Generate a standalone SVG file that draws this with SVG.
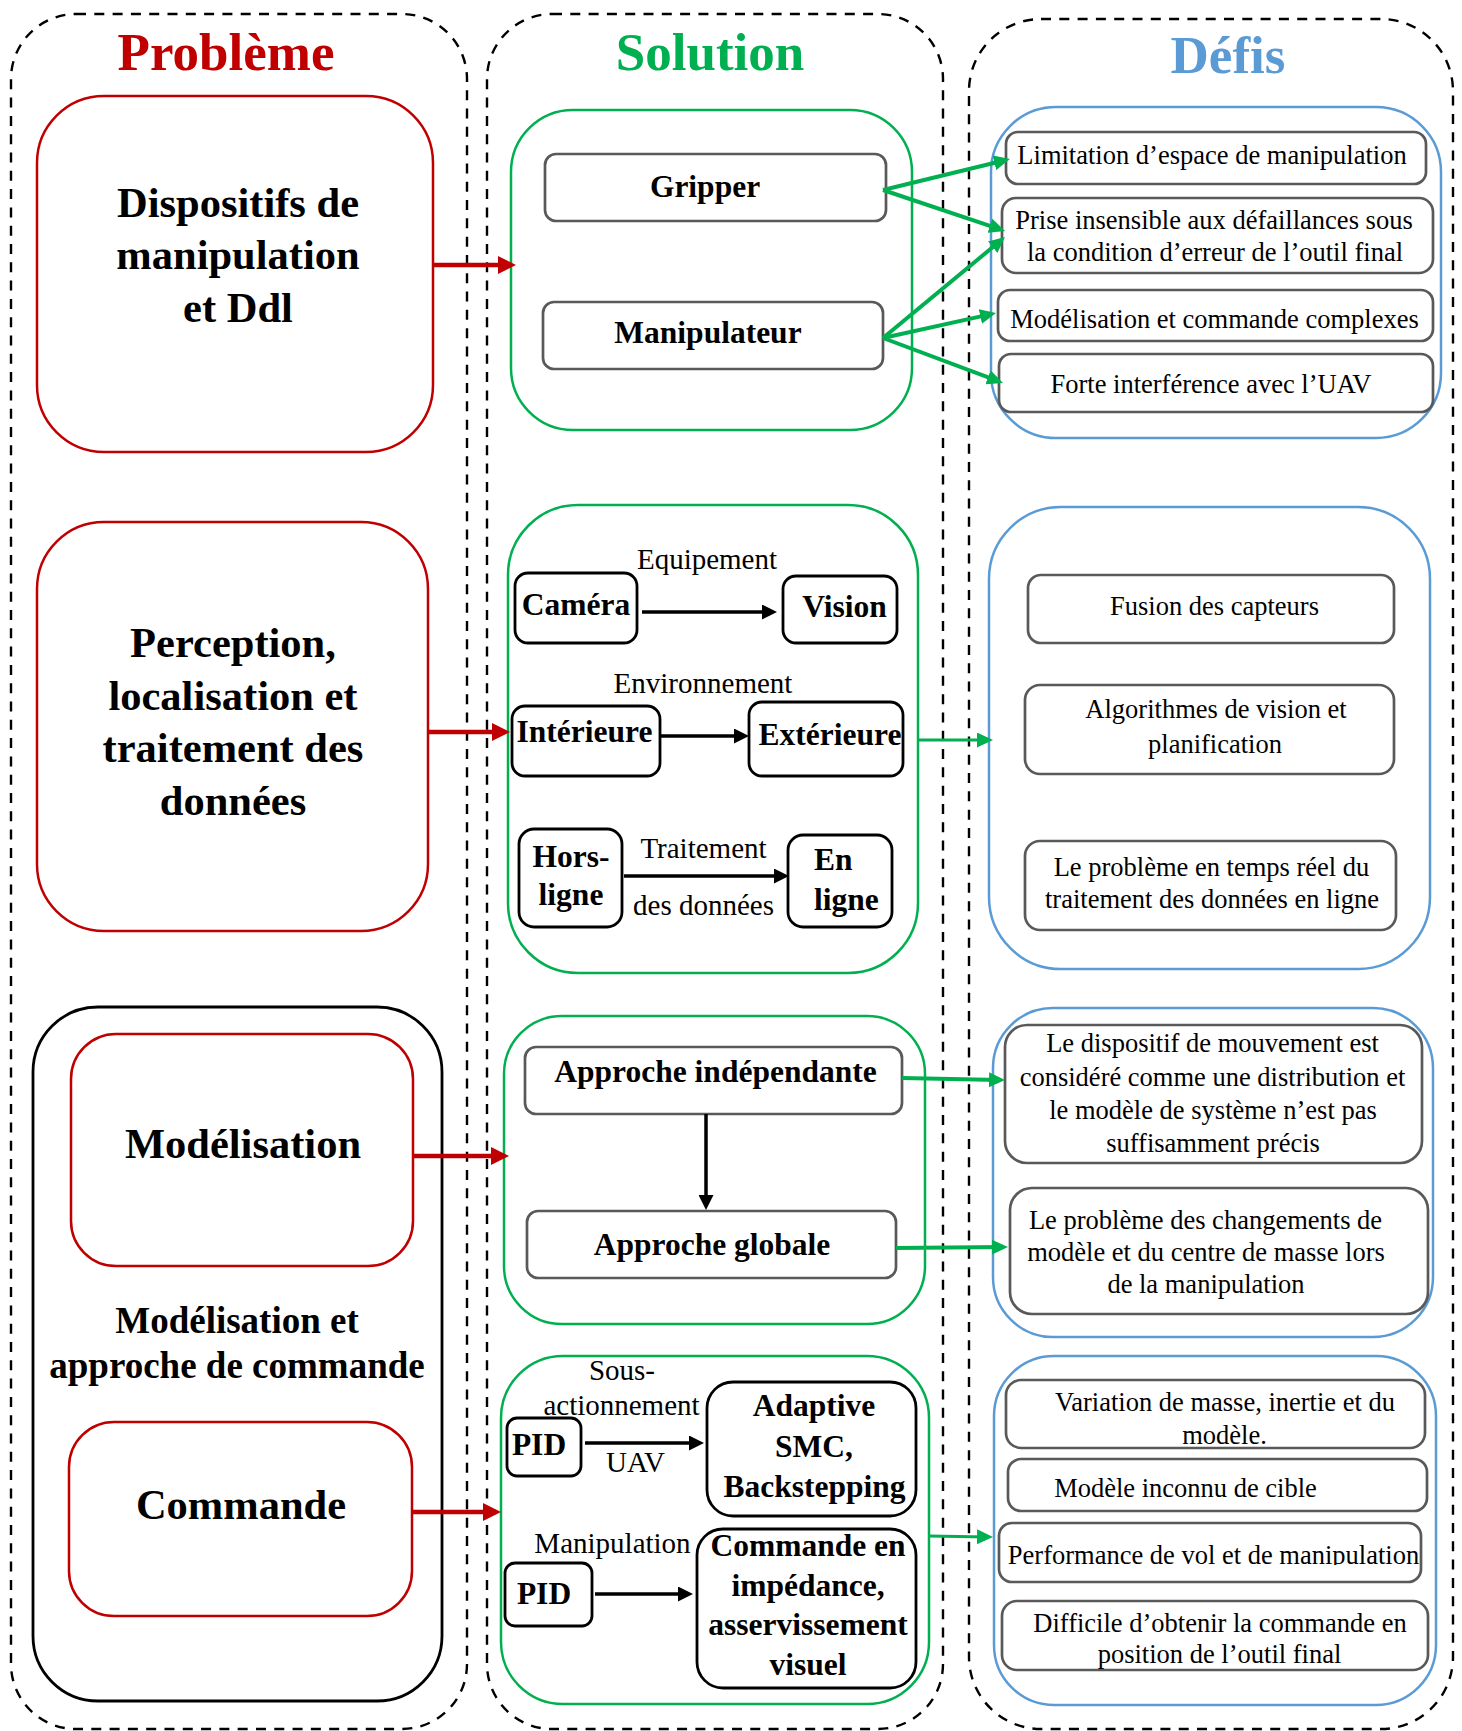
<svg xmlns="http://www.w3.org/2000/svg" width="1462" height="1731" viewBox="0 0 1462 1731">
<defs>
<style>
text{font-family:"Liberation Serif","Times New Roman",serif;fill:#000}
.title{font-size:53px;font-weight:bold;text-anchor:middle}
.pb{font-size:42.5px;font-weight:bold;text-anchor:middle}
.sb{font-size:31.5px;font-weight:bold;text-anchor:middle}
.lbl{font-size:29px;text-anchor:middle}
.df{font-size:26.5px;text-anchor:middle}
.dash{fill:none;stroke:#000;stroke-width:2.4;stroke-dasharray:10 8.3}
.red{fill:#fff;stroke:#C00000;stroke-width:2.5}
.green{fill:#fff;stroke:#00B050;stroke-width:2.5}
.blue{fill:#fff;stroke:#5B9BD5;stroke-width:2.5}
.gray{fill:#fff;stroke:#595959;stroke-width:2.7}
.blk{fill:#fff;stroke:#000;stroke-width:2.8}
.ar{fill:none;stroke:#C00000;stroke-width:4.5}
.ag{fill:none;stroke:#00B050;stroke-width:4}
.ak{fill:none;stroke:#000;stroke-width:3.5}
</style>
<marker id="mr" markerUnits="userSpaceOnUse" markerWidth="18" markerHeight="18" refX="13" refY="9" orient="auto"><path d="M0,0 L18,9 L0,18 z" fill="#C00000"/></marker>
<marker id="mg" markerUnits="userSpaceOnUse" markerWidth="16" markerHeight="15" refX="11" refY="7.5" orient="auto"><path d="M0,0 L16,7.5 L0,15 z" fill="#00B050"/></marker>
<marker id="mk" markerUnits="userSpaceOnUse" markerWidth="15" markerHeight="15" refX="11" refY="7.5" orient="auto"><path d="M0,0 L15,7.5 L0,15 z" fill="#000"/></marker>
<clipPath id="clipPerf"><rect x="990" y="1520" width="450" height="45"/></clipPath>
</defs>

<g id="columns">
<rect id="col-probleme" class="dash" x="11" y="14" width="456" height="1715" rx="65" ry="65"/>
<rect id="col-solution" class="dash" x="487" y="14" width="456" height="1715" rx="65" ry="65"/>
<rect id="col-defis" class="dash" x="969" y="19" width="484" height="1710" rx="72" ry="72"/>
<text class="title" x="226" y="70" style="fill:#C00000">Problème</text>
<text class="title" x="710" y="70" style="fill:#00B050">Solution</text>
<text class="title" x="1228" y="73" style="fill:#5B9BD5">Défis</text>
</g>

<g id="probleme">
<g id="p-dispositifs">
<rect class="red" x="37" y="96" width="396" height="356" rx="67"/>
<text class="pb" x="238" y="217">Dispositifs de</text>
<text class="pb" x="238" y="269">manipulation</text>
<text class="pb" x="238" y="322">et Ddl</text>
</g>
<g id="p-perception">
<rect class="red" x="37" y="522" width="391" height="409" rx="67"/>
<text class="pb" x="233" y="657">Perception,</text>
<text class="pb" x="233" y="710">localisation et</text>
<text class="pb" x="233" y="762">traitement des</text>
<text class="pb" x="233" y="815">données</text>
</g>
<g id="p-modcom">
<rect class="blk" x="33" y="1007" width="409" height="694" rx="65"/>
<text class="pb" x="237" y="1333" style="font-size:37px">Modélisation et</text>
<text class="pb" x="237" y="1378" style="font-size:37px">approche de commande</text>
</g>
<g id="p-modelisation">
<rect class="red" x="71" y="1034" width="342" height="232" rx="45"/>
<text class="pb" x="243" y="1158">Modélisation</text>
</g>
<g id="p-commande">
<rect class="red" x="69" y="1422" width="343" height="194" rx="45"/>
<text class="pb" x="241" y="1519">Commande</text>
</g>
</g>

<g id="solution">
<g id="s-group1">
<rect class="green" x="511" y="110" width="401" height="320" rx="62"/>
</g>
<g id="s-gripper">
<rect class="gray" x="545" y="154" width="341" height="67" rx="11"/>
<text class="sb" x="705" y="197">Gripper</text>
</g>
<g id="s-manipulateur">
<rect class="gray" x="543" y="302" width="340" height="67" rx="11"/>
<text class="sb" x="708" y="343">Manipulateur</text>
</g>

<g id="s-group2">
<rect class="green" x="508" y="505" width="410" height="468" rx="70"/>
<text class="lbl" x="707" y="569">Equipement</text>
<text class="lbl" x="703" y="693">Environnement</text>
<text class="lbl" x="703.5" y="858">Traitement</text>
<text class="lbl" x="703.5" y="915">des données</text>
</g>
<g id="s-camera">
<rect class="blk" x="515" y="573" width="122" height="70" rx="13"/>
<text class="sb" x="576" y="615">Caméra</text>
</g>
<g id="s-vision">
<rect class="blk" x="783" y="576" width="114" height="67" rx="13"/>
<text class="sb" x="844.5" y="617">Vision</text>
</g>
<g id="s-interieure">
<rect class="blk" x="512" y="706" width="148" height="70" rx="13"/>
<text class="sb" x="584.5" y="742">Intérieure</text>
</g>
<g id="s-exterieure">
<rect class="blk" x="749" y="702" width="154" height="74" rx="13"/>
<text class="sb" x="830" y="745">Extérieure</text>
</g>
<g id="s-horsligne">
<rect class="blk" x="519" y="829" width="103" height="98" rx="15"/>
<text class="sb" x="571" y="867">Hors-</text>
<text class="sb" x="571" y="905">ligne</text>
</g>
<g id="s-enligne">
<rect class="blk" x="788" y="835" width="104" height="92" rx="15"/>
<text class="sb" x="814" y="870" style="text-anchor:start">En</text>
<text class="sb" x="814" y="910" style="text-anchor:start">ligne</text>
</g>

<g id="s-group3">
<rect class="green" x="504" y="1016" width="421" height="308" rx="58"/>
</g>
<g id="s-independante">
<rect class="gray" x="525" y="1047" width="377" height="67" rx="11"/>
<text class="sb" x="715.5" y="1082">Approche indépendante</text>
</g>
<g id="s-globale">
<rect class="gray" x="527" y="1211" width="369" height="67" rx="11"/>
<text class="sb" x="712" y="1255">Approche globale</text>
</g>

<g id="s-group4">
<rect class="green" x="501" y="1356" width="428" height="348" rx="62"/>
<text class="lbl" x="622" y="1380">Sous-</text>
<text class="lbl" x="621.5" y="1415">actionnement</text>
<text class="lbl" x="635.5" y="1472">UAV</text>
<text class="lbl" x="612.5" y="1553">Manipulation</text>
</g>
<g id="s-pid1">
<rect class="blk" x="507" y="1418" width="74" height="58" rx="10"/>
<text class="sb" x="539" y="1455">PID</text>
</g>
<g id="s-adaptive">
<rect class="blk" x="707" y="1382" width="209" height="134" rx="26"/>
<text class="sb" x="814" y="1416">Adaptive</text>
<text class="sb" x="814" y="1457">SMC,</text>
<text class="sb" x="814.5" y="1497">Backstepping</text>
</g>
<g id="s-pid2">
<rect class="blk" x="505" y="1563" width="87" height="63" rx="10"/>
<text class="sb" x="544" y="1604">PID</text>
</g>
<g id="s-impedance">
<rect class="blk" x="697" y="1529" width="219" height="159" rx="26"/>
<text class="sb" x="808" y="1556">Commande en</text>
<text class="sb" x="808" y="1596">impédance,</text>
<text class="sb" x="808" y="1635">asservissement</text>
<text class="sb" x="808" y="1675">visuel</text>
</g>
</g>

<g id="defis">
<g id="d-group1">
<rect class="blue" x="991" y="107" width="450" height="331" rx="65"/>
</g>
<g id="d-limitation">
<rect class="gray" x="1006" y="132" width="420" height="52" rx="12"/>
<text class="df" x="1212" y="164">Limitation d’espace de manipulation</text>
</g>
<g id="d-prise">
<rect class="gray" x="1002" y="198" width="431" height="75" rx="14"/>
<text class="df" x="1214" y="229">Prise insensible aux défaillances sous</text>
<text class="df" x="1215" y="261">la condition d’erreur de l’outil final</text>
</g>
<g id="d-complexes">
<rect class="gray" x="998" y="290" width="435" height="51" rx="12"/>
<text class="df" x="1214.5" y="328">Modélisation et commande complexes</text>
</g>
<g id="d-interference">
<rect class="gray" x="999" y="354" width="434" height="58" rx="12"/>
<text class="df" x="1211" y="393">Forte interférence avec l’UAV</text>
</g>

<g id="d-group2">
<rect class="blue" x="989" y="507" width="441" height="462" rx="72"/>
</g>
<g id="d-fusion">
<rect class="gray" x="1028" y="575" width="366" height="68" rx="13"/>
<text class="df" x="1214.5" y="615">Fusion des capteurs</text>
</g>
<g id="d-algorithmes">
<rect class="gray" x="1025" y="685" width="369" height="89" rx="15"/>
<text class="df" x="1216" y="718">Algorithmes de vision et</text>
<text class="df" x="1215" y="753">planification</text>
</g>
<g id="d-tempsreel">
<rect class="gray" x="1025" y="841" width="371" height="89" rx="15"/>
<text class="df" x="1211.5" y="876">Le problème en temps réel du</text>
<text class="df" x="1212" y="908">traitement des données en ligne</text>
</g>

<g id="d-group3">
<rect class="blue" x="993" y="1008" width="440" height="329" rx="60"/>
</g>
<g id="d-dispositif">
<rect class="gray" x="1005" y="1025" width="417" height="138" rx="22"/>
<text class="df" x="1212.5" y="1052">Le dispositif de mouvement est</text>
<text class="df" x="1212.5" y="1086">considéré comme une distribution et</text>
<text class="df" x="1213" y="1119">le modèle de système n’est pas</text>
<text class="df" x="1213" y="1152">suffisamment précis</text>
</g>
<g id="d-changements">
<rect class="gray" x="1010" y="1188" width="418" height="126" rx="22"/>
<text class="df" x="1205.5" y="1229">Le problème des changements de</text>
<text class="df" x="1206" y="1261">modèle et du centre de masse lors</text>
<text class="df" x="1206" y="1292.5">de la manipulation</text>
</g>

<g id="d-group4">
<rect class="blue" x="994" y="1356" width="442" height="349" rx="60"/>
</g>
<g id="d-variation">
<rect class="gray" x="1006" y="1380" width="419" height="68" rx="15"/>
<text class="df" x="1225" y="1411">Variation de masse, inertie et du</text>
<text class="df" x="1224.5" y="1444">modèle.</text>
</g>
<g id="d-inconnu">
<rect class="gray" x="1008" y="1459" width="419" height="52" rx="13"/>
<text class="df" x="1185.5" y="1497">Modèle inconnu de cible</text>
</g>
<g id="d-performance">
<rect class="gray" x="999" y="1523" width="422" height="59" rx="13"/>
<text class="df" x="1213.5" y="1564" clip-path="url(#clipPerf)">Performance de vol et de manipulation</text>
</g>
<g id="d-difficile">
<rect class="gray" x="1002" y="1601" width="426" height="69" rx="15"/>
<text class="df" x="1220" y="1632">Difficile d’obtenir la commande en</text>
<text class="df" x="1219.5" y="1663">position de l’outil final</text>
</g>
</g>

<g id="connectors">
<line class="ar" x1="433" y1="265" x2="511" y2="265" marker-end="url(#mr)"/>
<line class="ar" x1="428" y1="732" x2="505" y2="732" marker-end="url(#mr)"/>
<line class="ar" x1="413" y1="1156" x2="504" y2="1156" marker-end="url(#mr)"/>
<line class="ar" x1="412" y1="1512" x2="496" y2="1512" marker-end="url(#mr)"/>
<line class="ag" x1="883" y1="190" x2="1005.1" y2="160.2" marker-end="url(#mg)"/>
<line class="ag" x1="883" y1="190" x2="1000.3" y2="229.3" marker-end="url(#mg)"/>
<line class="ag" x1="883" y1="338" x2="1001.1" y2="240.2" marker-end="url(#mg)"/>
<line class="ag" x1="883" y1="338" x2="991.1" y2="314.1" marker-end="url(#mg)"/>
<line class="ag" x1="883" y1="338" x2="998.3" y2="381.2" marker-end="url(#mg)"/>
<line class="ag" x1="918" y1="740" x2="988" y2="740" style="stroke-width:3.2" marker-end="url(#mg)"/>
<line class="ag" x1="902" y1="1078" x2="1000" y2="1080" marker-end="url(#mg)"/>
<line class="ag" x1="896" y1="1248" x2="1003" y2="1247" marker-end="url(#mg)"/>
<line class="ag" x1="929" y1="1536" x2="988" y2="1537" style="stroke-width:3.2" marker-end="url(#mg)"/>
<line class="ak" x1="642" y1="612" x2="773" y2="612" marker-end="url(#mk)"/>
<line class="ak" x1="660" y1="736" x2="745" y2="736" marker-end="url(#mk)"/>
<line class="ak" x1="624" y1="876" x2="785" y2="876" marker-end="url(#mk)"/>
<line class="ak" x1="706" y1="1114" x2="706" y2="1206" marker-end="url(#mk)"/>
<line class="ak" x1="585" y1="1443" x2="700" y2="1443" marker-end="url(#mk)"/>
<line class="ak" x1="595" y1="1594" x2="689" y2="1594" marker-end="url(#mk)"/>
</g>
</svg>
